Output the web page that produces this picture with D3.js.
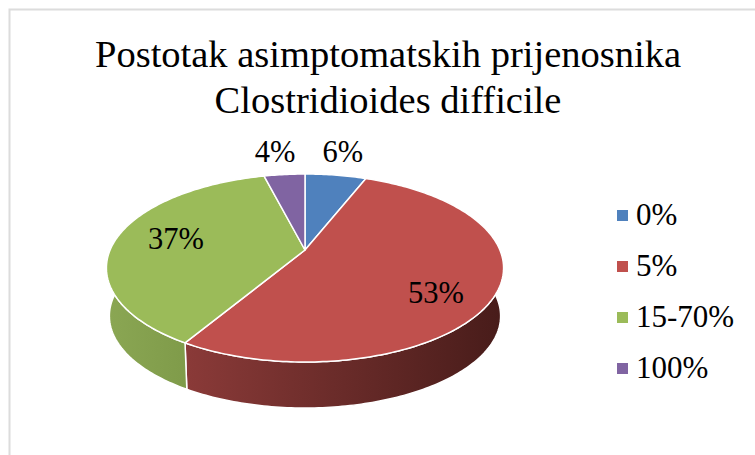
<!DOCTYPE html>
<html>
<head>
<meta charset="utf-8">
<script src="https://cdn.jsdelivr.net/npm/d3@7"></script>
<style>
  html, body { margin: 0; padding: 0; background: #fff; }
  svg { display: block; }
  text { font-family: "Liberation Serif", "Times New Roman", serif; fill: #000; }
</style>
</head>
<body>
<div id="chart"></div>
<script>
// Data (label text is the rounded share)
var categories = ["0%", "5%", "15-70%", "100%"]
var shares = [6, 52.6, 37.4, 4]
var titleLines = ["Postotak asimptomatskih prijenosnika", "Clostridioides difficile"]

var colors = ["#4f81bd", "#c0504d", "#9bbb59", "#8064a2"]
var sideLeft = ["#41688f", "#8a3a38", "#8aa653", "#65507f"]
var sideRight = ["#41688f", "#481c1a", "#749040", "#65507f"]

var width = 755
var height = 455

var svg = d3.select("#chart").append("svg")
    .attr("width", width)
    .attr("height", height)

// Frame, only left and top are visible in the crop
svg.append("path")
    .attr("d", `M9.5,${height} V9.5 H${width}`)
    .attr("fill", "none")
    .attr("stroke", "#dcdcdc")
    .attr("stroke-width", 2)

// Title
svg.append("g").selectAll("text")
    .data(titleLines)
    .join("text")
    .attr("x", 388)
    .attr("y", (d, i) => 67 + i * 46)
    .attr("text-anchor", "middle")
    .attr("font-size", 38.5)
    .text(d => d)

// Perspective of the tilted disc: the far side gets smaller
var tilt = 0.1915
function projector(cx, cy, a, b) {
    return function (angle, r) {
        var u = Math.sin(angle) * r
        var v = Math.cos(angle) * r
        var w = 1 + tilt * v
        return [cx + a * u / w, cy - b * v / w]
    }
}
var topFace = projector(305, 250, 194.9, 90.55)
var baseFace = projector(305, 298.3, 192, 88.7)

var arcs = d3.pie().sort(null).value(d => d)(shares)
var line = d3.line()

function rim(project, a0, a1) {
    var n = Math.max(2, Math.ceil(Math.abs(a1 - a0) * 60))
    return d3.range(n + 1).map(i => project(a0 + (a1 - a0) * i / n, 1))
}

// Side wall gradients
var defs = svg.append("defs")
arcs.forEach((d, i) => {
    var xs = rim(baseFace, d.startAngle, d.endAngle).map(p => p[0])
    var grad = defs.append("linearGradient")
        .attr("id", "side" + i)
        .attr("gradientUnits", "userSpaceOnUse")
        .attr("x1", d3.min(xs)).attr("x2", d3.max(xs))
        .attr("y1", 0).attr("y2", 0)
    grad.append("stop").attr("offset", 0).attr("stop-color", sideLeft[i])
    grad.append("stop").attr("offset", 1).attr("stop-color", sideRight[i])
})

// Side walls first, the top face covers whatever is behind
svg.append("g").selectAll("path")
    .data(arcs)
    .join("path")
    .attr("d", d => line(rim(topFace, d.startAngle, d.endAngle)
        .concat(rim(baseFace, d.endAngle, d.startAngle))) + "Z")
    .attr("fill", (d, i) => "url(#side" + i + ")")
    .attr("stroke", "#fff")
    .attr("stroke-width", 1.5)
    .attr("stroke-linejoin", "round")

// Top face
svg.append("g").selectAll("path")
    .data(arcs)
    .join("path")
    .attr("d", d => line([topFace(0, 0)].concat(rim(topFace, d.startAngle, d.endAngle))) + "Z")
    .attr("fill", (d, i) => colors[i])
    .attr("stroke", "#fff")
    .attr("stroke-width", 1.5)
    .attr("stroke-linejoin", "round")

// Data labels: radial placement plus a small manual nudge
var labelPlace = [
    { r: 1.2, dx: 2, dy: -1 },
    { r: 0.7, dx: 1, dy: 23 },
    { r: 0.65, dx: -6, dy: 7 },
    { r: 1.2, dx: -6, dy: 0 }
]
svg.append("g").selectAll("text")
    .data(arcs)
    .join("text")
    .attr("x", (d, i) => topFace((d.startAngle + d.endAngle) / 2, labelPlace[i].r)[0] + labelPlace[i].dx)
    .attr("y", (d, i) => topFace((d.startAngle + d.endAngle) / 2, labelPlace[i].r)[1] + labelPlace[i].dy)
    .attr("text-anchor", "middle")
    .attr("font-size", 30.5)
    .text(d => Math.round(d.value) + "%")

// Legend
var legendY = d3.scalePoint().domain(categories).range([225, 378])
var legend = svg.append("g").selectAll("g")
    .data(categories)
    .join("g")
    .attr("transform", d => `translate(617, ${legendY(d)})`)

legend.append("rect")
    .attr("y", -15)
    .attr("width", 11)
    .attr("height", 11)
    .attr("fill", (d, i) => colors[i])

legend.append("text")
    .attr("x", 19)
    .attr("font-size", 31)
    .text(d => d)
</script>
</body>
</html>
